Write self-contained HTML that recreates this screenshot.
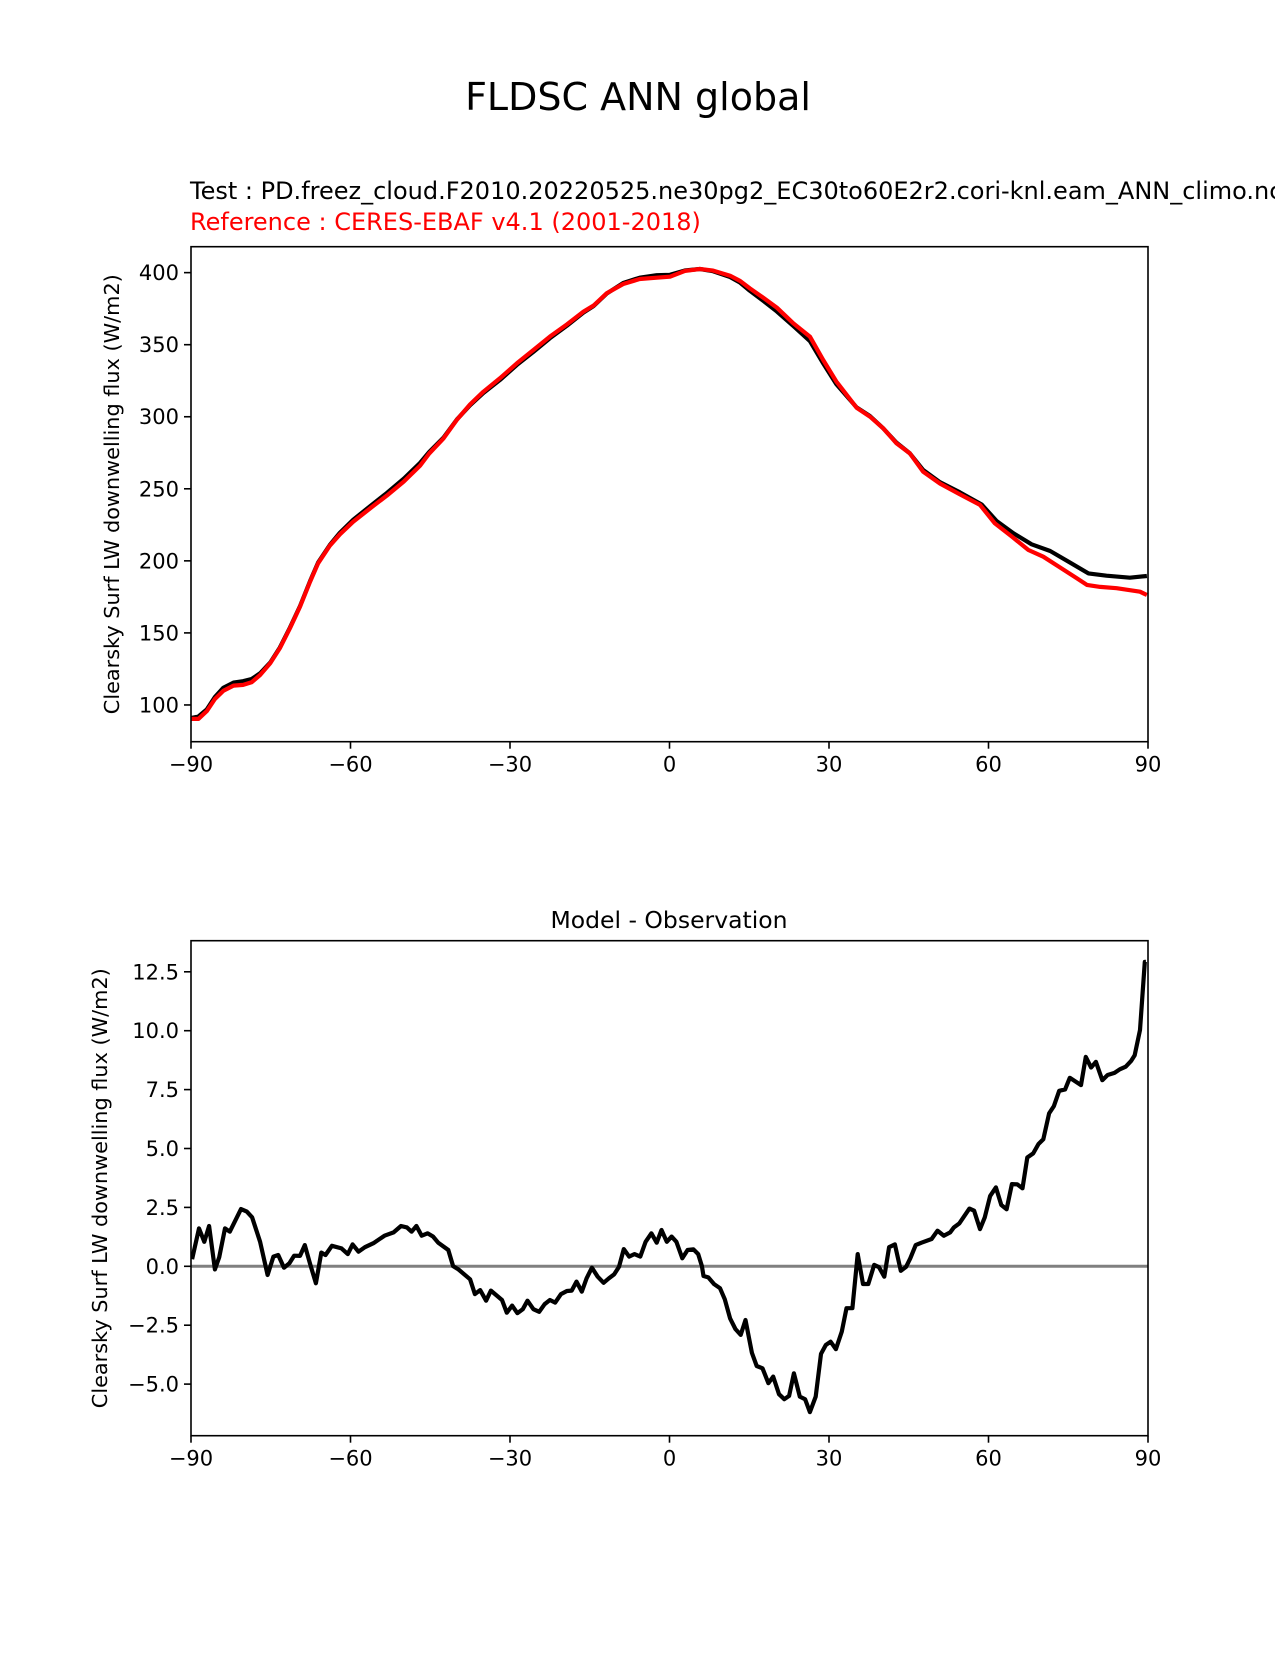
<!DOCTYPE html>
<html><head><meta charset="utf-8"><style>
html,body{margin:0;padding:0;background:#fff;}
svg text{font-family:"DejaVu Sans","Liberation Sans",sans-serif;}
</style></head><body>
<svg id="fig" width="1275" height="1650" viewBox="0 0 1275 1650" xmlns="http://www.w3.org/2000/svg">
<rect width="1275" height="1650" fill="#fff"/>
<text x="638" y="110" font-size="38" text-anchor="middle">FLDSC ANN global</text>
<text x="190" y="199" font-size="24">Test : PD.freez_cloud.F2010.20220525.ne30pg2_EC30to60E2r2.cori-knl.eam_ANN_climo.nc</text>
<text x="190" y="230" font-size="24" fill="#ff0000">Reference : CERES-EBAF v4.1 (2001-2018)</text>
<text x="669" y="928" font-size="23.5" text-anchor="middle">Model - Observation</text>
<g id="top"></g>
<g id="bot"></g>
</svg>
<script>
const testLat = [-89.9,-88.6,-87.0,-85.5,-83.9,-82.0,-80.2,-78.6,-77.0,-75.1,-73.3,-71.4,-69.5,-67.6,-66.1,-63.9,-62.0,-59.5,-56.3,-53.2,-50.0,-46.9,-45.2,-42.5,-40.0,-37.5,-35.0,-31.9,-28.7,-25.6,-22.5,-19.3,-16.2,-14.3,-11.8,-8.7,-5.6,-2.4,0.1,2.9,5.7,8.2,11.4,13.3,15.1,17.6,20.2,23.3,26.4,28.9,31.4,35.2,37.7,40.2,42.7,45.2,47.7,50.9,54.6,58.7,61.5,64.7,68.1,71.6,75.0,78.8,82.2,86.6,89.8];
const testVals = [91,92,97,105.5,112,115.5,116.5,118,122,129.4,139.8,153.6,168.6,186,198.8,211,219.5,228.5,238,247,257,268,275.5,285.5,298,308,316.5,325.5,336,345,354.5,363.2,372.3,376.8,385.5,392.8,396.5,398.2,398.5,401.5,402.5,401,397,393,387.5,380.5,373,363,352.5,337,322.5,306.5,300.5,292,282,274.6,263.1,254.5,247.6,239.2,227.7,219.1,211.5,206.8,199.5,191.3,189.7,188.3,189.5];
const refLat = [-89.9,-88.6,-87.0,-85.5,-83.9,-82.0,-80.2,-78.6,-77.0,-75.1,-73.3,-71.4,-69.5,-67.6,-66.1,-63.9,-62.0,-59.5,-56.3,-53.2,-50.0,-46.9,-45.2,-42.5,-40.0,-37.5,-35.0,-31.9,-28.7,-25.6,-22.5,-19.3,-16.2,-14.3,-11.8,-8.7,-5.6,-2.4,0.1,2.9,5.7,8.2,11.4,13.3,15.1,17.6,20.2,23.3,26.4,28.9,31.4,35.2,37.7,40.2,42.7,45.2,47.7,50.9,54.6,58.4,61.2,64.4,67.5,70.3,73.5,76.6,78.5,81.0,84.1,88.5,89.8];
const refVals = [90.3,90.3,95.8,104.1,109.9,113.4,113.9,115.7,120.8,128.9,139.3,153.2,168.2,185.6,198.3,210.5,218.4,227.2,236.5,245.2,255.0,266.1,274.5,285.0,297.8,308.6,317.4,326.7,337.1,346.3,355.6,364.1,372.9,377.1,385.7,392.1,395.6,396.5,397.2,401.2,402.5,401.4,397.9,394.2,389.1,382.7,375.7,364.8,355.6,339.4,324.4,306.3,300.1,292.0,281.6,274.6,261.9,253.6,246.2,238.8,226.0,216.8,207.5,202.9,195.3,187.9,183.3,181.9,181.0,178.6,176.3];
const diffLat = [-89.8,-88.5,-87.5,-86.6,-85.5,-84.7,-83.6,-82.7,-80.6,-79.5,-78.5,-77.0,-75.6,-74.5,-73.6,-72.5,-71.5,-70.6,-69.5,-68.6,-67.6,-66.5,-65.5,-64.7,-63.5,-61.7,-60.5,-59.6,-58.5,-57.3,-55.7,-53.6,-51.9,-50.5,-49.4,-48.5,-47.6,-46.6,-45.5,-44.5,-43.5,-41.6,-40.7,-39.7,-37.5,-36.6,-35.6,-34.5,-33.6,-31.5,-30.6,-29.6,-28.6,-27.6,-26.7,-25.6,-24.5,-23.5,-22.5,-21.5,-20.4,-19.3,-18.4,-17.5,-16.5,-15.6,-14.6,-13.5,-12.4,-11.4,-10.4,-9.5,-8.6,-7.6,-6.6,-5.5,-4.5,-3.4,-2.4,-1.5,-0.5,0.4,1.3,2.4,3.4,4.5,5.4,6.1,6.4,7.3,8.4,9.5,10.4,11.4,12.4,13.4,14.3,15.5,16.4,17.5,18.6,19.5,20.6,21.6,22.5,23.4,24.5,25.5,26.4,27.5,28.5,29.4,30.3,31.3,32.4,33.3,34.4,35.4,36.4,37.4,38.5,39.4,40.4,41.3,42.4,43.5,44.5,45.3,46.3,47.4,49.3,50.4,51.6,52.8,53.5,54.5,56.4,57.3,58.4,59.3,60.3,61.4,62.4,63.4,64.4,65.4,66.4,67.3,68.4,69.4,70.3,71.4,72.3,73.3,74.4,75.3,77.4,78.3,79.3,80.2,81.4,82.4,83.7,84.7,85.8,86.8,87.5,88.5,89.4,89.6];
const diffVals = [0.30,1.61,1.04,1.71,-0.13,0.38,1.61,1.47,2.43,2.32,2.08,1.04,-0.37,0.41,0.48,-0.06,0.13,0.45,0.44,0.90,0.10,-0.72,0.58,0.48,0.87,0.76,0.52,0.93,0.62,0.81,0.98,1.30,1.44,1.71,1.65,1.47,1.71,1.30,1.40,1.27,1.00,0.69,0.01,-0.13,-0.55,-1.18,-1.01,-1.46,-1.03,-1.43,-1.97,-1.67,-1.99,-1.82,-1.46,-1.82,-1.93,-1.61,-1.43,-1.54,-1.18,-1.05,-1.03,-0.65,-1.08,-0.51,-0.06,-0.44,-0.70,-0.51,-0.34,-0.02,0.73,0.41,0.52,0.41,1.04,1.40,1.00,1.54,1.04,1.26,1.04,0.34,0.69,0.72,0.52,0.01,-0.41,-0.47,-0.76,-0.93,-1.40,-2.21,-2.66,-2.91,-2.28,-3.67,-4.23,-4.33,-4.96,-4.68,-5.43,-5.64,-5.50,-4.54,-5.53,-5.64,-6.19,-5.53,-3.72,-3.34,-3.20,-3.52,-2.77,-1.78,-1.78,0.52,-0.75,-0.75,0.06,-0.04,-0.44,0.81,0.93,-0.19,-0.02,0.34,0.90,1.00,1.16,1.51,1.30,1.44,1.65,1.82,2.45,2.36,1.58,2.08,2.98,3.35,2.60,2.42,3.49,3.48,3.31,4.62,4.79,5.19,5.39,6.49,6.80,7.45,7.51,8.00,7.69,8.89,8.44,8.68,7.90,8.12,8.21,8.36,8.47,8.71,8.96,10.03,12.92,12.92];
const xTicks = [-90,-60,-30,0,30,60,90];
const xTickLabels = ["\u221290","\u221260","\u221230","0","30","60","90"];
const topYTicks = [100,150,200,250,300,350,400];
const topYTickLabels = ["100","150","200","250","300","350","400"];
const botYTicks = [-5,-2.5,0,2.5,5,7.5,10,12.5];
const botYTickLabels = ["\u22125.0","\u22122.5","0.0","2.5","5.0","7.5","10.0","12.5"];

const NS="http://www.w3.org/2000/svg";
function mk(parent,tag,attrs){const e=document.createElementNS(NS,tag);for(const k in attrs)e.setAttribute(k,attrs[k]);parent.appendChild(e);return e;}
const X0=191,X1=1148;
function xs(v){return X0+(v+90)/180*(X1-X0);}

function panel(g,top,bot,ymin,ymax,yticks,ylabels,name){
  const ys=v=>bot-(v-ymin)/(ymax-ymin)*(bot-top);
  const clipId='clip-'+name;
  const cp=mk(g,'clipPath',{id:clipId});
  mk(cp,'rect',{x:X0,y:top,width:X1-X0,height:bot-top});
  const plot=mk(g,'g',{'clip-path':'url(#'+clipId+')'});
  
  
  xTicks.forEach((t,i)=>{
    const tk=mk(g,'line',{x1:xs(t),x2:xs(t),y1:bot,y2:bot+7,stroke:'#000','stroke-width':1.6});
    
    
    const tl=mk(g,'text',{x:xs(t),y:bot+30,'font-size':21,'text-anchor':'middle'});
    tl.textContent=xTickLabels[i];
    
    
  });
  yticks.forEach((t,i)=>{
    const tk=mk(g,'line',{x1:X0-7,x2:X0,y1:ys(t),y2:ys(t),stroke:'#000','stroke-width':1.6});
    
    
    const tl=mk(g,'text',{x:X0-12,y:ys(t)+7.5,'font-size':21,'text-anchor':'end'});
    tl.textContent=ylabels[i];
    
    
  });
  const cy=(top+bot)/2, lx=(name==='top')?119:107;
  const yl=mk(g,'text',{x:lx,y:cy,'font-size':20,'text-anchor':'middle',transform:'rotate(-90 '+lx+' '+cy+')',textLength:440,lengthAdjust:'spacingAndGlyphs'});
  yl.textContent='Clearsky Surf LW downwelling flux (W/m2)';
  
  
  return {plot,ys,frame:()=>{
    const fr=mk(g,'rect',{x:X0,y:top,width:X1-X0,height:bot-top,fill:'none',stroke:'#000','stroke-width':1.6});
    
    
  }};
}
function line(p,lat,vals,color,w,nm){
  const d=lat.map((la,i)=>(i?'L':'M')+xs(la).toFixed(1)+','+p.ys(vals[i]).toFixed(1)).join(' ');
  const e=mk(p.plot,'path',{d:d,fill:'none',stroke:color,'stroke-width':w,'stroke-linejoin':'round'});
  
  
}
const tp=panel(document.getElementById('top'),246.7,741.7,74.5,418.0,topYTicks,topYTickLabels,'top');
line(tp,testLat,testVals,'#000000',4.2,'test-line');
line(tp,refLat,refVals,'#ff0000',4.2,'reference-line');
tp.frame();
const bp=panel(document.getElementById('bot'),940.7,1435.7,-7.19,13.82,botYTicks,botYTickLabels,'bottom');
const z=mk(bp.plot,'line',{x1:X0,x2:X1,y1:bp.ys(0),y2:bp.ys(0),stroke:'#808080','stroke-width':3});


line(bp,diffLat,diffVals,'#000000',4.2,'difference-line');
bp.frame();
</script>
</body></html>
